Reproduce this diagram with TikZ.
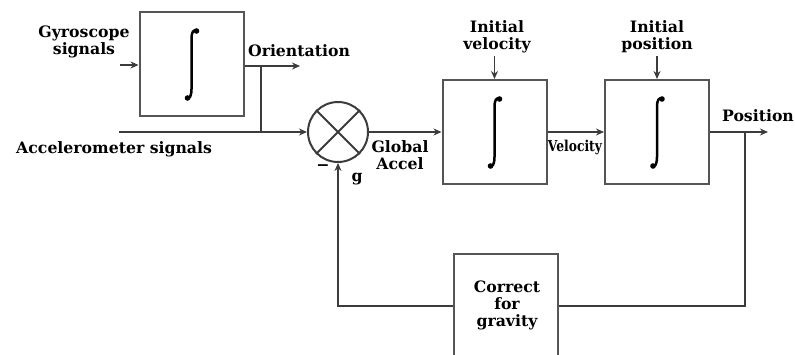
\documentclass[tikz,border=0pt]{standalone}
\usepackage{fontspec}
\setmainfont{DejaVu Serif}
\usetikzlibrary{arrows.meta}
\definecolor{linec}{HTML}{3C3C3C}
\definecolor{boxc}{HTML}{555555}
\begin{document}
\begin{tikzpicture}[x=1pt,y=-1pt,
  lbl/.style={font=\bfseries\fontsize{15.7}{17}\selectfont, align=center, inner sep=0pt, text=black},
  smalllbl/.style={font=\bfseries\fontsize{15}{15}\selectfont, inner sep=0pt, text=black, xscale=0.82},
  blk/.style={draw=boxc, line width=2pt, minimum width=104pt, minimum height=104pt, inner sep=0pt},
  wire/.style={draw=linec, line width=1.7pt},
  arr/.style={wire, -{Stealth[length=8pt,width=7pt]}},
  integral/.pic={
    \draw[line width=2.5pt, black] (5,-33) .. controls (2,-35) and (0,-32) .. (0,-25) -- (0,25) .. controls (0,32) and (-2,35) .. (-4,34);
    \fill[black] (5,-33) circle (2.8pt);
    \fill[black] (-4,34) circle (2.8pt);
  }
]
\fill[white] (0,0) rectangle (795,354);
\useasboundingbox (0,0) rectangle (795,354);

% blocks
\node[blk] (gyro) at (191.5,64) {};
\node[blk] (vel) at (494.5,132) {};
\node[blk] (pos) at (657,132) {};
\node[blk] (corr) at (506,306) {};
\node[circle, draw=linec, line width=2pt, minimum size=60pt, inner sep=0pt] (sum) at (338,132) {};
\draw[line width=2pt, linec] (sum.north west) -- (sum.south east) (sum.north east) -- (sum.south west);

\pic at (gyro.center) {integral};
\pic at (vel.center) {integral};
\pic at (pos.center) {integral};

% labels
\node[lbl] (gyrolbl) at (84,42) {Gyroscope\\signals};
\node[lbl] (orient) at (299,50.5) {Orientation};
\node[lbl, anchor=base west] (acclbl) at (16,153) {Accelerometer signals};
\node[lbl] (glob) at (400,155) {Global\\Accel};
\node[lbl] (minus) at (323,168) {−};
\node[lbl] (glbl) at (357,179) {g};
\node[lbl] (ivel) at (497,37) {Initial\\velocity};
\node[lbl] (ipos) at (657,37) {Initial\\position};
\node[smalllbl] (vlbl) at (575,147) {Velocity};
\node[lbl] (plbl) at (758,116) {Position};
\node[lbl] (corrlbl) at (507,305.5) {Correct\\for\\gravity};

% connector end points
\coordinate (gin) at (120,65);
\coordinate (oout) at (300,66);
\coordinate (obr) at (261,66);
\coordinate (ain) at (119,132);
\coordinate (abr) at (261,132);
\coordinate (pout) at (768,132);
\coordinate (pbr) at (745,132);

% connectors
\draw[arr] (gin) -- (gin -| gyro.west);
\draw[arr] (gyro.east |- oout) -- (oout);
\draw[wire] (obr) -- (abr);
\draw[arr] (ain) -- (sum.west);
\draw[arr] (sum.east) -- (vel.west);
\draw[arr] (vel.east) -- (pos.west);
\draw[arr] (pos.east) -- (pout);
\draw[wire] (pbr) |- (corr.east);
\draw[arr] (corr.west) -| (sum.south);
\draw[arr] (vel.north |- 0,56) -- (vel.north);
\draw[arr] (pos.north |- 0,56) -- (pos.north);
\end{tikzpicture}
\end{document}
